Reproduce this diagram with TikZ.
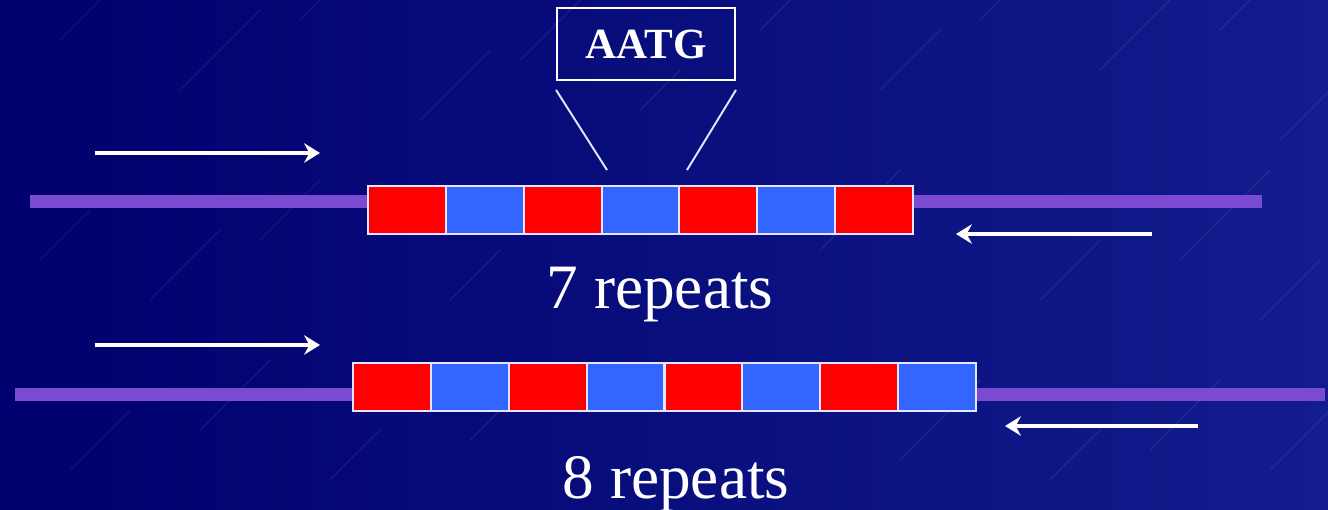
\documentclass[tikz,border=0pt]{standalone}
\usepackage{fontspec}
\setmainfont{Liberation Serif}
\usetikzlibrary{arrows.meta}
\definecolor{bgdark}{RGB}{0,0,110}
\definecolor{bglight}{RGB}{18,28,140}
\definecolor{dnared}{RGB}{255,0,0}
\definecolor{dnablue}{RGB}{51,102,255}
\definecolor{dnapurple}{RGB}{122,74,210}
\tikzset{
  unit/.style={draw=white!90!blue, line width=1.1pt, minimum width=1.556cm, minimum height=0.96cm, inner sep=0pt, anchor=north west},
  redunit/.style={unit, fill=dnared},
  blueunit/.style={unit, fill=dnablue},
  strand/.style={dnapurple, line width=7.4pt},
  primer/.style={white, line width=2.3pt, -{Stealth[length=9pt,width=11pt]}},
  label/.style={text=white, font=\fontsize{36}{40}\selectfont},
  motif/.style={draw=white, line width=1.1pt, text=white, font=\bfseries\fontsize{24.5}{28}\selectfont, minimum width=3.56cm, minimum height=1.44cm, inner sep=0pt},
  zoomline/.style={white!90!blue, line width=1.1pt},
  streak/.style={white, opacity=0.07, line width=0.8pt}
}
\begin{document}
\begin{tikzpicture}[x=0.02cm, y=-0.02cm]
\useasboundingbox (0,0) rectangle (1328,510);
\shade[left color=bgdark, right color=bglight] (0,0) rectangle (1328,510);
% faint diagonal streaks
\foreach \sx/\sy/\len in {60/40/60, 180/90/80, 300/20/50, 420/120/70, 520/60/90, 640/110/40, 760/30/80, 880/90/60, 980/20/90, 1100/70/70, 1220/30/60, 1280/140/80,
  40/260/50, 150/300/70, 260/240/60, 450/300/50, 820/250/80, 1040/300/60, 1180/260/90, 1260/320/60,
  70/470/60, 200/430/70, 330/480/50, 470/440/60, 900/460/80, 1050/480/50, 1150/450/70, 1270/470/60}
  \draw[streak] (\sx,\sy) -- ++(\len,-\len);
% top row: 7 repeats
\draw[strand] (30,201) coordinate (tl) -- (1262,201) coordinate (tr);
\foreach \i/\c in {1/redunit,2/blueunit,3/redunit,4/blueunit,5/redunit,6/blueunit,7/redunit}
  \node[\c] (t\i) at ({367+(\i-1)*77.86},185) {};
% bottom row: 8 repeats
\draw[strand] (15,394) coordinate (bl) -- (1325,394) coordinate (br);
\foreach \i/\c in {1/redunit,2/blueunit,3/redunit,4/blueunit,5/redunit,6/blueunit,7/redunit,8/blueunit}
  \node[\c] (b\i) at ({352+(\i-1)*77.9},362) {};
% motif box and zoom lines
\node[motif] (aatg) at (646,44) {AATG};
\coordinate (zl) at (607,170);
\coordinate (zr) at (687,170);
\draw[zoomline] ([yshift=-0.18cm]aatg.south west) -- (zl);
\draw[zoomline] ([yshift=-0.18cm]aatg.south east) -- (zr);
% primers
\coordinate (p1s) at (95,153);  \coordinate (p1e) at (320,153);
\coordinate (p2s) at (1152,234); \coordinate (p2e) at (956,234);
\coordinate (p3s) at (95,345);  \coordinate (p3e) at (320,345);
\coordinate (p4s) at (1198,426); \coordinate (p4e) at (1005,426);
\draw[primer] (p1s) -- (p1e);
\draw[primer] (p2s) -- (p2e);
\draw[primer] (p3s) -- (p3e);
\draw[primer] (p4s) -- (p4e);
% labels
\node[label] (l7) at (660,295) {7 repeats};
\node[label] (l8) at (676,484) {8 repeats};
\end{tikzpicture}
\end{document}
